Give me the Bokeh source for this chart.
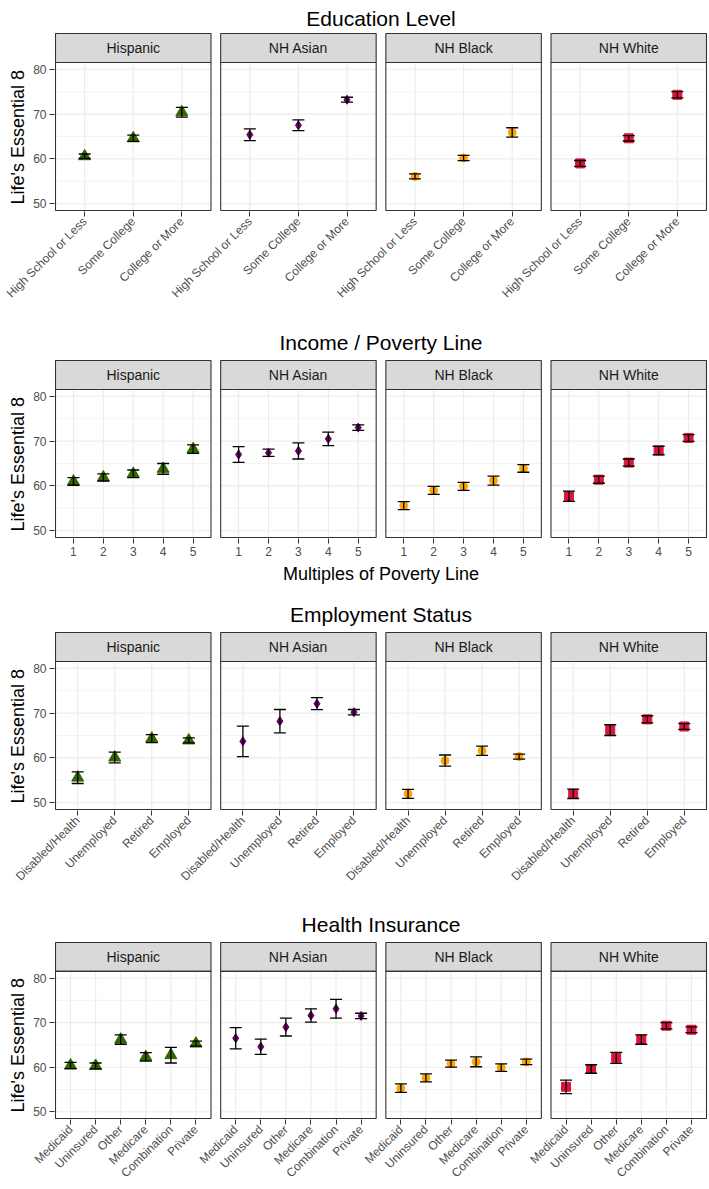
import math
from bokeh.plotting import figure
from bokeh.models import FactorRange, Range1d, FixedTicker, Title, ColumnDataSource
from bokeh.transform import dodge
from bokeh.layouts import column
from bokeh.embed import file_html
from bokeh.resources import INLINE
from bokeh.core.properties import value

RACES = ["Hispanic", "NH Asian", "NH Black", "NH White"]

EDU_CATS = ["High School or Less", "Some College", "College or More"]
EDU_MEAN = {"Hispanic": [60.6, 64.6, 70.4], "NH Asian": [65.4, 67.5, 73.2],
            "NH Black": [56.1, 60.2, 65.9], "NH White": [59.0, 64.6, 74.3]}
EDU_ERR = {"Hispanic": [0.5, 0.7, 1.1], "NH Asian": [1.3, 1.2, 0.55],
           "NH Black": [0.55, 0.6, 1.05], "NH White": [0.65, 0.6, 0.7]}

INC_CATS = ["1", "2", "3", "4", "5"]
INC_MEAN = {"Hispanic": [61.0, 61.9, 62.7, 63.8, 68.2], "NH Asian": [67.0, 67.4, 67.8, 70.5, 73.0],
            "NH Black": [55.6, 59.0, 59.9, 61.2, 63.9], "NH White": [57.7, 61.4, 65.2, 67.9, 70.7]}
INC_ERR = {"Hispanic": [0.85, 0.8, 0.85, 1.2, 0.95], "NH Asian": [1.75, 0.8, 1.8, 1.5, 0.6],
           "NH Black": [0.9, 0.9, 0.9, 1.0, 0.85], "NH White": [1.15, 0.8, 0.8, 0.95, 0.75]}

EMP_CATS = ["Disabled/Health", "Unemployed", "Retired", "Employed"]
EMP_MEAN = {"Hispanic": [55.6, 60.1, 64.3, 63.9], "NH Asian": [63.7, 68.2, 72.1, 70.2],
            "NH Black": [52.0, 59.4, 61.6, 60.3], "NH White": [52.0, 66.2, 68.6, 67.0]}
EMP_ERR = {"Hispanic": [1.3, 1.2, 0.9, 0.55], "NH Asian": [3.4, 2.6, 1.35, 0.6],
           "NH Black": [1.0, 1.25, 1.05, 0.55], "NH White": [1.05, 1.2, 0.8, 0.65]}

INS_CATS = ["Medicaid", "Uninsured", "Other", "Medicare", "Combination", "Private"]
INS_MEAN = {"Hispanic": [60.4, 60.3, 66.2, 62.3, 62.7, 65.3], "NH Asian": [66.5, 64.6, 69.0, 71.6, 73.1, 71.5],
            "NH Black": [55.3, 57.6, 60.8, 61.2, 59.9, 61.2], "NH White": [55.6, 59.6, 62.1, 66.2, 69.3, 68.4]}
INS_ERR = {"Hispanic": [0.7, 0.65, 1.05, 0.95, 1.75, 0.55], "NH Asian": [2.4, 1.7, 2.0, 1.5, 2.1, 0.6],
           "NH Black": [0.95, 0.9, 0.8, 1.1, 0.85, 0.6], "NH White": [1.5, 0.95, 1.25, 1.05, 0.7, 0.65]}

Y_TICKS = [50, 60, 70, 80]
Y_MINOR = [55, 65, 75]
Y_LO, Y_HI = 48.5, 81.5
Y_TITLE = "Life's Essential 8"

MARKERS = {"Hispanic": "triangle", "NH Asian": "diamond", "NH Black": "circle", "NH White": "square"}
COLORS = {"Hispanic": "#336600", "NH Asian": "#660066", "NH Black": "#FFA500", "NH White": "#DC143C"}
SIZES = {"Hispanic": 12, "NH Asian": 9, "NH Black": 8, "NH White": 9}

FONT = "Liberation Sans"
GRID = "#EBEBEB"
DARK = "#333333"
PANEL_W, GAP, PANEL_H, STRIP_H, MARGIN = 155.5, 29 / 3, 148, 29, 1
LEFT, RIGHT, FIG_W = 54, 2, 709


def make_row(title, cats, means, errs, top, standoff, bottom, rotate=True, xlabel=None):
    n = len(cats)
    ppu = PANEL_W / (n + 0.2)
    pad = 0.1 + MARGIN / ppu
    xr = FactorRange(factors=[(r, c) for r in RACES for c in cats],
                     factor_padding=0, subgroup_padding=0,
                     group_padding=0.2 + GAP / ppu,
                     range_padding=pad, range_padding_units="absolute")
    ppy = PANEL_H / (Y_HI - Y_LO)
    strip_top = Y_HI + STRIP_H / ppy
    yr = Range1d(Y_LO - MARGIN / ppy, strip_top + MARGIN / ppy)
    frame_h = PANEL_H + STRIP_H + 2 * MARGIN
    p = figure(width=FIG_W, height=top + frame_h + bottom, x_range=xr, y_range=yr, title=title,
               output_backend="svg", toolbar_location=None,
               min_border_left=LEFT, min_border_right=RIGHT, min_border_top=top, min_border_bottom=bottom,
               outline_line_color=None, background_fill_color="white", border_fill_color="white")
    p.grid.visible = False

    p.title.align = "center"
    p.title.text_font = FONT
    p.title.text_font_size = "21px"
    p.title.text_font_style = "normal"
    p.title.text_color = "black"
    p.title.standoff = standoff

    def hgrid(vals, width):
        src = ColumnDataSource(dict(first=[(r, cats[0]) for r in RACES for v in vals],
                                    last=[(r, cats[-1]) for r in RACES for v in vals],
                                    y=[v for r in RACES for v in vals]))
        p.segment(x0=dodge("first", -0.6, range=xr), x1=dodge("last", 0.6, range=xr),
                  y0="y", y1="y", source=src, line_color=GRID, line_width=width)
    hgrid(Y_MINOR, 0.6)
    hgrid(Y_TICKS, 1.1)
    vsrc = ColumnDataSource(dict(x=[(r, c) for r in RACES for c in cats]))
    p.segment(x0="x", x1="x", y0=Y_LO, y1=Y_HI, source=vsrc, line_color=GRID, line_width=1.1)

    panels = ColumnDataSource(dict(race=RACES, first=[(r, cats[0]) for r in RACES],
                                   last=[(r, cats[-1]) for r in RACES]))
    p.quad(left=dodge("first", -0.6, range=xr), right=dodge("last", 0.6, range=xr),
           bottom=Y_HI, top=strip_top, source=panels, fill_color="#D9D9D9", line_color=DARK, line_width=1.1)
    p.text(x="race", y=(Y_HI + strip_top) / 2, text="race", source=panels, text_align="center",
           text_baseline="middle", text_font=value(FONT), text_font_size="14px", text_color="#1A1A1A")

    for r in RACES:
        m = means[r]
        e = errs[r]
        src = ColumnDataSource(dict(x=[(r, c) for c in cats], y=m,
                                    lo=[a - b for a, b in zip(m, e)], hi=[a + b for a, b in zip(m, e)]))
        p.scatter(x="x", y="y", source=src, marker=MARKERS[r], size=SIZES[r],
                  fill_color=COLORS[r], line_color=COLORS[r])
        p.segment(x0="x", x1="x", y0="lo", y1="hi", source=src, line_color="black", line_width=1.3)
        p.scatter(x="x", y="lo", source=src, marker="dash", size=12, line_color="black", line_width=1.3)
        p.scatter(x="x", y="hi", source=src, marker="dash", size=12, line_color="black", line_width=1.3)

    p.quad(left=dodge("first", -0.6, range=xr), right=dodge("last", 0.6, range=xr),
           bottom=Y_LO, top=Y_HI, source=panels, fill_color=None, line_color=DARK, line_width=1.1)

    ya = p.yaxis[0]
    ya.ticker = FixedTicker(ticks=Y_TICKS)
    ya.minor_tick_line_color = None
    ya.axis_line_color = None
    ya.major_tick_out = 5
    ya.major_tick_in = 0
    ya.major_tick_line_color = DARK
    ya.major_label_text_font = FONT
    ya.major_label_text_font_size = "12px"
    ya.major_label_text_color = "#4D4D4D"
    ya.major_label_standoff = 3

    xa = p.xaxis[0]
    xa.axis_line_color = None
    xa.major_tick_out = 5
    xa.major_tick_in = 0
    xa.major_tick_line_color = DARK
    xa.major_label_text_font = FONT
    xa.major_label_text_font_size = "12px"
    xa.major_label_text_color = "#4D4D4D"
    xa.major_label_standoff = 3
    xa.major_label_orientation = math.pi / 4 if rotate else "horizontal"
    xa.group_text_font_size = "1px"
    xa.group_text_alpha = 0
    xa.separator_line_color = None
    if xlabel:
        xa.axis_label = xlabel
        xa.axis_label_text_font = FONT
        xa.axis_label_text_font_size = "18px"
        xa.axis_label_text_font_style = "normal"
        xa.axis_label_text_color = "black"
        xa.axis_label_standoff = 5

    p.add_layout(Title(text=Y_TITLE, align="left", offset=7, standoff=6, text_font=FONT,
                       text_font_size="18px", text_font_style="normal", text_color="black"), "left")
    return p


p1 = make_row("Education Level", EDU_CATS, EDU_MEAN, EDU_ERR, 32, 5, 109)
p2 = make_row("Income / Poverty Line", INC_CATS, INC_MEAN, INC_ERR, 39, 12, 54, rotate=False,
              xlabel="Multiples of Poverty Line")
p3 = make_row("Employment Status", EMP_CATS, EMP_MEAN, EMP_ERR, 39, 12, 92)
p4 = make_row("Health Insurance", INS_CATS, INS_MEAN, INS_ERR, 39, 12, 68)

p = column(p1, p2, p3, p4, spacing=0)
open("out.html", "w").write(file_html(p, INLINE, title="Life's Essential 8"))
